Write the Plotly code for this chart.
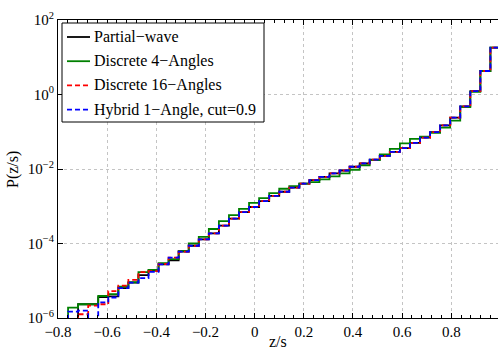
import numpy as np
import plotly.graph_objects as go

FONT = "Liberation Serif, Times New Roman, serif"

# histogram bins: 44 equal bins between z/s = -0.8 and 1.0
Z_MIN, Z_MAX, N_BINS = -0.8, 1.0, 44

# P(z/s) per bin (0 = empty bin, below the axis)
partial_wave = [
    0, 0, 2.34e-6, 2.34e-6, 3.63e-6, 3.80e-6, 6.31e-6, 8.91e-6, 1.41e-5, 1.86e-5,
    2.75e-5, 3.55e-5, 6.03e-5, 8.71e-5, 1.29e-4, 1.86e-4, 3.02e-4, 4.68e-4, 6.92e-4, 9.55e-4,
    1.38e-3, 1.91e-3, 2.45e-3, 3.16e-3, 4.07e-3, 5.01e-3, 6.17e-3, 7.59e-3, 9.12e-3, 1.15e-2,
    1.41e-2, 1.78e-2, 2.24e-2, 2.88e-2, 3.63e-2, 5.01e-2, 6.92e-2, 9.77e-2, 0.148, 0.240,
    0.479, 1.23, 4.27, 18.2,
]
discrete_4 = [
    0, 1.91e-6, 2.34e-6, 2.34e-6, 3.89e-6, 4.37e-6, 6.92e-6, 9.12e-6, 1.70e-5, 1.95e-5,
    2.95e-5, 3.80e-5, 6.31e-5, 1.00e-4, 1.51e-4, 2.45e-4, 3.98e-4, 5.75e-4, 8.51e-4, 1.23e-3,
    1.66e-3, 2.24e-3, 2.95e-3, 3.47e-3, 4.07e-3, 4.47e-3, 5.25e-3, 6.31e-3, 7.59e-3, 9.55e-3,
    1.26e-2, 1.74e-2, 2.45e-2, 3.47e-2, 4.90e-2, 6.46e-2, 7.41e-2, 9.33e-2, 0.129, 0.200,
    0.457, 1.17, 4.27, 18.2,
]
discrete_16 = [
    0, 0, 1.26e-6, 2.14e-6, 2.34e-6, 5.25e-6, 7.41e-6, 1.05e-5, 1.70e-5, 1.82e-5,
    2.82e-5, 4.17e-5, 6.03e-5, 8.71e-5, 1.29e-4, 1.86e-4, 3.02e-4, 4.68e-4, 6.92e-4, 9.55e-4,
    1.38e-3, 1.91e-3, 2.45e-3, 3.16e-3, 4.07e-3, 5.01e-3, 6.17e-3, 7.59e-3, 9.12e-3, 1.15e-2,
    1.41e-2, 1.78e-2, 2.24e-2, 2.88e-2, 3.63e-2, 5.01e-2, 6.92e-2, 9.77e-2, 0.148, 0.240,
    0.479, 1.23, 4.27, 18.2,
]
hybrid_1 = [
    0, 1.48e-6, 1.58e-6, 0, 2.63e-6, 3.55e-6, 6.31e-6, 8.91e-6, 1.17e-5, 1.74e-5,
    2.75e-5, 4.17e-5, 6.03e-5, 8.71e-5, 1.29e-4, 1.86e-4, 3.02e-4, 4.68e-4, 6.92e-4, 9.55e-4,
    1.38e-3, 1.91e-3, 2.45e-3, 3.16e-3, 4.07e-3, 5.01e-3, 6.17e-3, 7.59e-3, 9.12e-3, 1.15e-2,
    1.41e-2, 1.78e-2, 2.24e-2, 2.88e-2, 3.63e-2, 5.01e-2, 6.92e-2, 9.77e-2, 0.148, 0.240,
    0.479, 1.23, 4.27, 18.2,
]

x_ticks = [-0.8, -0.6, -0.4, -0.2, 0, 0.2, 0.4, 0.6, 0.8]
x_ticktext = ["\u22120.8", "\u22120.6", "\u22120.4", "\u22120.2", "0", "0.2", "0.4", "0.6", "0.8"]
y_ticks = [1e-6, 1e-4, 1e-2, 1, 1e2]
y_ticktext = ["10<sup>\u22126</sup>", "10<sup>\u22124</sup>", "10<sup>\u22122</sup>",
              "10<sup>0</sup>", "10<sup>2</sup>"]

W, H = 498, 349
L, R, T, B = 58, 0, 20, 31

edges = np.linspace(Z_MIN, Z_MAX, N_BINS + 1)


def stairs(vals):
    # matlab-style stairs: empty bins drop below the axis
    y = [v if v > 0 else 1e-9 for v in vals]
    return edges, y + [y[-1]]


def px(x, y):
    # pixel position -> paper coords
    return (x - L) / (W - L - R), (H - B - y) / (H - T - B)


series = [
    ("Partial\u2212wave", partial_wave, "#000000", "solid"),
    ("Discrete 4\u2212Angles", discrete_4, "#008000", "solid"),
    ("Discrete 16\u2212Angles", discrete_16, "#ff0000", "5px,3px"),
    ("Hybrid 1\u2212Angle, cut=0.9", hybrid_1, "#0000ff", "5px,3px"),
]

fig = go.Figure()
for name, vals, col, dash in series:
    x, y = stairs(vals)
    fig.add_trace(go.Scatter(
        x=x, y=y, mode="lines", name=name, showlegend=False,
        line=dict(color=col, width=1.8, dash=dash, shape="hv"),
    ))

# matlab-looking legend box, drawn by hand
bx0, by0 = px(62, 122)
bx1, by1 = px(264, 23)
shapes = [dict(type="rect", xref="paper", yref="paper", x0=bx0, y0=by0, x1=bx1, y1=by1,
               fillcolor="white", line=dict(color="black", width=1), layer="above")]
annotations = []
for i, (name, vals, col, dash) in enumerate(series):
    row_y = 37 + i * 24.2
    lx0, ly = px(67, row_y)
    lx1, _ = px(90, row_y)
    tx, _ = px(92, row_y)
    shapes.append(dict(type="line", xref="paper", yref="paper", x0=lx0, x1=lx1, y0=ly, y1=ly,
                       line=dict(color=col, width=1.8, dash=dash), layer="above"))
    annotations.append(dict(text=name, xref="paper", yref="paper", x=tx, y=ly,
                            xanchor="left", yanchor="middle", showarrow=False,
                            font=dict(size=16, family=FONT, color="black")))

tx, ty = px(278, 342)
annotations.append(dict(text="z/s", xref="paper", yref="paper", x=tx, y=ty,
                        xanchor="center", yanchor="middle", showarrow=False,
                        font=dict(size=16, family=FONT)))
tx, ty = px(13, 170)
annotations.append(dict(text="P(z/s)", xref="paper", yref="paper", x=tx, y=ty,
                        xanchor="center", yanchor="middle", textangle=-90, showarrow=False,
                        font=dict(size=16, family=FONT)))

axis_common = dict(
    showline=True, linecolor="black", linewidth=1.2,
    ticks="inside", tickcolor="black", ticklen=5,
    showgrid=True, gridcolor="#c4c4c4", griddash="dot", gridwidth=1,
    zeroline=False, tickfont=dict(size=15, color="black", family=FONT),
)

fig.update_layout(
    width=W, height=H,
    paper_bgcolor="white", plot_bgcolor="white",
    font=dict(family=FONT, color="black", size=15),
    margin=dict(l=L, r=R, t=T, b=B),
    xaxis=dict(
        **axis_common, mirror="ticks",
        range=[-0.8, 0.99],
        tickvals=x_ticks, ticktext=x_ticktext,
        minor=dict(dtick=0.04, tick0=-0.8, ticks="inside", ticklen=3,
                   tickcolor="black", showgrid=False),
    ),
    yaxis=dict(
        **axis_common, type="log", range=[-6, 2],
        tickvals=y_ticks, ticktext=y_ticktext,
    ),
    showlegend=False,
    shapes=shapes,
    annotations=annotations,
)

# drop the default 8px page margin so the figure sits at the window corner
fig.write_html("out.html", config={"displayModeBar": False},
               post_script="document.body.style.margin='0';")
